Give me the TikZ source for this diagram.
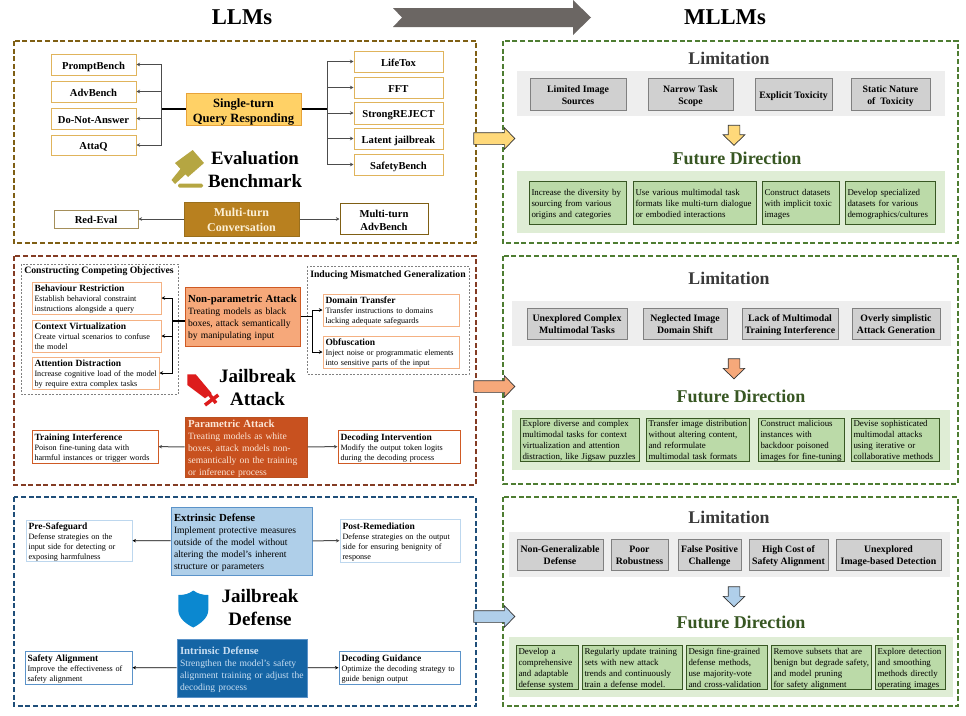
\documentclass[tikz,border=0pt]{standalone}
\usepackage{fontspec}
\setmainfont{Liberation Serif}
\usetikzlibrary{arrows.meta}
\usetikzlibrary{shapes.arrows}
\definecolor{brownline}{HTML}{7F5F14}
\definecolor{rustline}{HTML}{843C24}
\definecolor{navyline}{HTML}{1F4E79}
\definecolor{greenline}{HTML}{4E7D32}
\definecolor{goldedge}{HTML}{E0B45C}
\definecolor{peachedge}{HTML}{F4B183}
\definecolor{orangeedge}{HTML}{CF5A24}
\definecolor{skyedge}{HTML}{BDD7EE}
\definecolor{blueedge}{HTML}{5B93C9}
\definecolor{limtext}{HTML}{3A3A3A}
\definecolor{futtext}{HTML}{385723}
\definecolor{limback}{HTML}{EEEEEE}
\definecolor{futback}{HTML}{DFEDD5}
\definecolor{limfill}{HTML}{D0D0D0}
\definecolor{futfill}{HTML}{BBDAA8}
\definecolor{bigarrow}{HTML}{6B6663}
\definecolor{singlefill}{HTML}{FFD166}
\definecolor{singleedge}{HTML}{E8A33A}
\definecolor{multifill}{HTML}{B8801F}
\definecolor{multiedge}{HTML}{9A6F1C}
\definecolor{multitext}{HTML}{FCF0D7}
\definecolor{gavelcol}{HTML}{B5A642}
\definecolor{swordcol}{HTML}{DD1C1C}
\definecolor{shieldcol}{HTML}{0B88D0}
\definecolor{nonparamfill}{HTML}{F6A87A}
\definecolor{paramfill}{HTML}{C8511F}
\definecolor{paramtext}{HTML}{FBE5D6}
\definecolor{extrfill}{HTML}{AFCFE9}
\definecolor{intrfill}{HTML}{1565A5}
\definecolor{intrtext}{HTML}{C8DEF2}
\definecolor{evalpoint}{HTML}{FFD97A}
\definecolor{attackpoint}{HTML}{F6A87A}
\definecolor{defpoint}{HTML}{B0CFEA}
\tikzset{panelline/.style={dash pattern=on 5pt off 2.6pt,line width=1.4pt}}
\tikzset{groupline/.style={draw=gray,dash pattern=on 2pt off 1.5pt,line width=.7pt}}
\tikzset{arrow/.style={-{Stealth[length=3.5pt,width=3.5pt]},line width=1pt,draw=black!70}}
\tikzset{thinarrow/.style={arrow,line width=.8pt,draw=black}}
\tikzset{trunk/.style={line width=1.6pt,draw=black}}
\tikzset{bench/.style 2 args={draw=goldedge,line width=1pt,minimum width=#1pt,minimum height=#2pt,inner sep=0pt,font=\fontsize{10.6}{13}\selectfont\bfseries}}
\tikzset{note/.style 2 args={line width=1pt,fill=white,text width=\dimexpr#1pt-5pt\relax,minimum height=#2pt,inner xsep=2.5pt,inner ysep=0pt,font=\fontsize{8.15}{10}\selectfont}}
\tikzset{hub/.style 2 args={line width=1pt,text width=\dimexpr#1pt-6pt\relax,minimum height=#2pt,inner xsep=3pt,inner ysep=0pt,font=\fontsize{9.6}{11.9}\selectfont}}
\tikzset{limbox/.style 2 args={draw=gray,line width=1pt,fill=limfill,minimum width=#1pt,minimum height=#2pt,inner sep=0pt,font=\fontsize{9.8}{12}\selectfont\bfseries}}
\tikzset{futbox/.style 2 args={draw=futtext,line width=.9pt,fill=futfill,text width=\dimexpr#1pt-5pt\relax,minimum height=#2pt,inner xsep=2.5pt,inner ysep=0pt,font=\fontsize{8.9}{11}\selectfont}}
\tikzset{title/.style={inner sep=0pt,font=\fontsize{#1}{#1}\selectfont\bfseries}}
\tikzset{stack/.style={inner sep=0pt,align=center,font=\fontsize{19}{23}\selectfont\bfseries}}
\tikzset{pointer/.style={draw=black!80,line width=.7pt,fill=#1,single arrow,inner sep=0pt,text height=11pt,text depth=0pt,minimum width=21pt,single arrow head extend=5pt,single arrow tip angle=92}}
\newcommand{\panel}[3]{
    \draw[panelline,draw=#1] #2 rectangle #3;
}
\newcommand{\hd}[1]{{\fontsize{9.5}{10}\selectfont\bfseries #1}}
\newcommand{\hdbig}[1]{{\fontsize{10.8}{11.9}\selectfont\bfseries #1}}
\newcommand{\lft}[1]{\hbox to\hsize{\raisebox{-.45em}[0pt][0pt]{\begin{tabular}{@{}l@{}}#1\end{tabular}}\hss}}
\newcommand{\ctr}[1]{\raisebox{-.45em}[0pt][0pt]{\begin{tabular}{@{}c@{}}#1\end{tabular}}}

\begin{document}
\begin{tikzpicture}[x=1pt,y=-1pt]
    \useasboundingbox (0,0) rectangle (966,715);

    \node[title=22.6] (llms) at (242,17) {LLMs};
    \node[title=22.6] (mllms) at (725,17) {MLLMs};
    \fill[fill=bigarrow] (393,8) -- (573,8) -- (573,0) -- (591,17.5) -- (573,35) -- (573,27) -- (393,27) -- (402,17.5) -- cycle;

    \panel{brownline}{(14,41)}{(476,243)}
    \panel{rustline}{(14,256)}{(476,485)}
    \panel{navyline}{(14,497)}{(476,706)}
    \panel{greenline}{(503,41)}{(958,243)}
    \panel{greenline}{(503,256)}{(958,484)}
    \panel{greenline}{(503,497)}{(958,706)}

    \node[bench={85}{21}] (prompt) at (93.5,64.5) {\ctr{PromptBench}};
    \node[bench={85}{21}] (adv) at (93.5,91.5) {\ctr{AdvBench}};
    \node[bench={85}{21}] (dna) at (93.5,118.5) {\ctr{Do-Not-Answer}};
    \node[bench={85}{20}] (attaq) at (93.5,145) {\ctr{AttaQ}};
    \node[bench={115}{32},fill=singlefill,draw=singleedge,font=\fontsize{12.6}{15}\selectfont\bfseries] (single) at (243.5,109) {\ctr{Single-turn\\Query Responding}};
    \node[bench={89}{21}] (lifetox) at (398.5,61.5) {\ctr{LifeTox}};
    \node[bench={89}{21}] (fft) at (398.5,87.5) {\ctr{FFT}};
    \node[bench={89}{22}] (strong) at (398.5,113) {\ctr{StrongREJECT}};
    \node[bench={89}{21}] (latent) at (398.5,138.5) {\ctr{Latent jailbreak}};
    \node[bench={89}{21}] (safety) at (398.5,164.5) {\ctr{SafetyBench}};
    \coordinate (lbus) at (161,109);
    \coordinate (rbus) at (327,109);
    \draw[trunk] (single.west) -- (lbus);
    \draw[trunk] (single.east) -- (rbus);
    \foreach \leaf in {prompt,adv,dna,attaq} {
        \draw[arrow] (lbus) |- (\leaf.east);
    }
    \foreach \leaf in {lifetox,fft,strong,latent,safety} {
        \draw[arrow] (rbus) |- (\leaf.west);
    }

    \fill[fill=gavelcol] (175,163) -- (192.7,150) -- (204,163) -- (188,177) -- cycle;
    \fill[fill=gavelcol] (182,167) -- (171.5,180) -- (175,184) -- (188,172) -- cycle;
    \fill[fill=gavelcol,rounded corners=1.5pt] (178,183.5) rectangle (203,187.5);
    \node[stack,font=\fontsize{18.8}{23}\selectfont\bfseries] (evalname) at (255,169.5) {Evaluation\\Benchmark};

    \node[bench={115}{34},draw=multiedge,fill=multifill,text=multitext,font=\fontsize{12}{15}\selectfont\bfseries] (multi) at (241.5,219) {\ctr{Multi-turn\\Conversation}};
    \node[bench={84}{18},draw=brownline!70] (redeval) at (96,219) {\ctr{Red-Eval}};
    \node[bench={88}{31},draw=brownline] (multiadv) at (384,219) {\ctr{Multi-turn\\AdvBench}};
    \draw[arrow] (multi) -- (redeval);
    \draw[arrow] (multi) -- (multiadv);

    \draw[groupline] (21,264) rectangle (178,394);
    \draw[groupline] (307,266) rectangle (469,374);
    \node[inner sep=0pt,font=\fontsize{9.75}{12}\selectfont\bfseries] (compname) at (99,271) {Constructing Competing Objectives};
    \node[inner sep=0pt,font=\fontsize{9.75}{12}\selectfont\bfseries] (mismname) at (388,275) {Inducing Mismatched Generalization};
    \node[note={129}{32},draw=peachedge] (behav) at (96.5,298) {\lft{\hd{Behaviour Restriction}\\Establish behavioral constraint\\instructions alongside a query}};
    \node[note={129}{32},draw=peachedge] (context) at (96.5,336) {\lft{\hd{Context Virtualization}\\Create virtual scenarios to confuse\\the model}};
    \node[note={127}{32},draw=peachedge] (attention) at (95.5,373) {\lft{\hd{Attention Distraction}\\Increase cognitive load of the model\\by require extra complex tasks}};
    \node[hub={115}{59},draw=orangeedge,fill=nonparamfill] (nonparam) at (242.5,316.5) {\lft{\hdbig{Non-parametric Attack}\\Treating models as black\\boxes, attack semantically\\by manipulating input}};
    \node[note={136}{32},draw=peachedge] (domain) at (391,310) {\lft{\hd{Domain Transfer}\\Transfer instructions to domains\\lacking adequate safeguards}};
    \node[note={136}{32},draw=peachedge] (obfus) at (391,352) {\lft{\hd{Obfuscation}\\Inject noise or programmatic elements\\into sensitive parts of the input}};
    \coordinate (lbusb) at (172,321);
    \coordinate (rbusb) at (312,316);
    \draw[trunk] (nonparam.west |- lbusb) -- (lbusb);
    \draw[trunk,line width=1pt] (nonparam.east |- rbusb) -- (rbusb);
    \foreach \leaf in {behav,context,attention} {
        \draw[thinarrow] (lbusb) |- (\leaf.east);
    }
    \foreach \leaf in {domain,obfus} {
        \draw[thinarrow] (rbusb) |- (\leaf.west);
    }

    \fill[fill=swordcol] (187.3,374.3) -- (195.7,374.3) -- (211.7,393.3) -- (205,398.3) -- (187.3,385) -- cycle;
    \draw[draw=swordcol,line width=3.5pt] (218.3,395) -- (205,405);
    \draw[draw=swordcol,line width=3.5pt] (209,394) -- (216,403);
    \node[stack] (attackname) at (257.5,387.5) {Jailbreak\\Attack};

    \node[hub={122}{60},draw=orangeedge!90!black,fill=paramfill,text=paramtext] (param) at (246,447) {\lft{\hdbig{Parametric Attack}\\Treating models as white\\boxes, attack models non-\\semantically on the training\\or inference process}};
    \node[note={126}{33},draw=orangeedge] (train) at (95,446.5) {\lft{\hd{Training Interference}\\Poison fine-tuning data with\\harmful instances or trigger words}};
    \node[note={122}{33},draw=orangeedge] (decint) at (399,446.5) {\lft{\hd{Decoding Intervention}\\Modify the output token logits\\during the decoding process}};
    \draw[arrow] (param) -- (train);
    \draw[arrow] (param) -- (decint);

    \node[hub={141}{68},draw=blueedge,fill=extrfill] (extr) at (241.5,541) {\lft{\hdbig{Extrinsic Defense}\\Implement protective measures\\outside of the model without\\altering the model's inherent\\structure or parameters}};
    \node[note={106}{41},draw=skyedge] (presafe) at (79,540.5) {\lft{\hd{Pre-Safeguard}\\Defense strategies on the\\input side for detecting or\\exposing harmfulness}};
    \node[note={120}{43},draw=skyedge] (postrem) at (400,540.5) {\lft{\hd{Post-Remediation}\\Defense strategies on the output\\side for ensuring benignity of\\response}};
    \draw[thinarrow] (extr) -- (presafe);
    \draw[arrow] (extr) -- (postrem);

    \fill[fill=shieldcol] (193.3,590.5) .. controls (198,594) and (203,595) .. (208.3,595) -- (208.3,610) .. controls (208.3,618) and (200,624) .. (193.3,627.5) .. controls (186,624) and (178.3,618) .. (178.3,610) -- (178.3,595) .. controls (184,595) and (189,594) .. (193.3,590.5) -- cycle;
    \node[stack] (defname) at (260,607.5) {Jailbreak\\Defense};

    \node[hub={130}{58},draw=blueedge,fill=intrfill,text=intrtext] (intr) at (242,668) {\lft{\hdbig{Intrinsic Defense}\\Strengthen the model's safety\\alignment training or adjust the\\decoding process}};
    \node[note={107}{33},draw=blueedge] (safeal) at (78.5,667.5) {\lft{\hd{Safety Alignment}\\Improve the effectiveness of\\safety alignment}};
    \node[note={121}{33},draw=blueedge] (decguide) at (399.5,667.5) {\lft{\hd{Decoding Guidance}\\Optimize the decoding strategy to\\guide benign output}};
    \draw[thinarrow] (intr) -- (safeal);
    \draw[thinarrow] (intr) -- (decguide);

    \node[pointer=evalpoint,minimum height=41pt] (evalptr) at (491.5,138.5) {};
    \node[pointer=attackpoint,minimum height=41pt] (attackptr) at (491.5,386.5) {};
    \node[pointer=defpoint,minimum height=41pt] (defptr) at (491.5,616.5) {};

    \node[title=17.8,text=limtext] (limone) at (729,58) {Limitation};
    \fill[fill=limback] (517,71) rectangle (945,116);
    \node[limbox={96}{32}] (limimage) at (578,94) {\ctr{Limited Image\\Sources}};
    \node[limbox={85}{32}] (limscope) at (690.5,94) {\ctr{Narrow Task\\Scope}};
    \node[limbox={77}{32}] (limtox) at (793.5,94) {\ctr{Explicit Toxicity}};
    \node[limbox={79}{32}] (limstatic) at (890.5,94) {\ctr{Static Nature\\of\ \ Toxicity}};
    \node[pointer=evalpoint,minimum height=20pt,rotate=-90] (evaldown) at (734,132.5) {};
    \node[title=18,text=futtext] (futone) at (737,158) {Future Direction};
    \fill[fill=futback] (517,171) rectangle (945,233);
    \node[futbox={97}{43}] (futimage) at (577.5,202.5) {\lft{Increase the diversity by\\sourcing from various\\origins and categories}};
    \node[futbox={123}{43}] (futtask) at (694.5,202.5) {\lft{Use various multimodal task\\formats like multi-turn dialogue\\or embodied interactions}};
    \node[futbox={77}{43}] (futtox) at (800.5,202.5) {\lft{Construct datasets\\with implicit toxic\\images}};
    \node[futbox={90}{43}] (futdemo) at (890,202.5) {\lft{Develop specialized\\datasets for various\\demographics/cultures}};

    \node[title=17.8,text=limtext] (limtwo) at (729,278) {Limitation};
    \fill[fill=limback] (512,301) rectangle (951,346);
    \node[limbox={100}{31}] (limcomplex) at (577,323.5) {\ctr{Unexplored Complex\\Multimodal Tasks}};
    \node[limbox={84}{31}] (limshift) at (685,323.5) {\ctr{Neglected Image\\Domain Shift}};
    \node[limbox={96}{31}] (limtrain) at (790,323.5) {\ctr{Lack of Multimodal\\Training Interference}};
    \node[limbox={88}{31}] (limgen) at (896,323.5) {\ctr{Overly simplistic\\Attack Generation}};
    \node[pointer=attackpoint,minimum height=20pt,rotate=-90] (attackdown) at (734,366) {};
    \node[title=18,text=futtext] (futtwo) at (741,396) {Future Direction};
    \fill[fill=futback] (512,410) rectangle (950,470);
    \node[futbox={119}{43}] (futdiverse) at (579.5,439.5) {\lft{Explore diverse and complex\\multimodal tasks for context\\virtualization and attention\\distraction, like Jigsaw puzzles}};
    \node[futbox={103}{43}] (futdistrib) at (697.5,439.5) {\lft{Transfer image distribution\\without altering content,\\and reformulate\\multimodal task formats}};
    \node[futbox={86}{43}] (futpoison) at (801,439.5) {\lft{Construct malicious\\instances with\\backdoor poisoned\\images for fine-tuning}};
    \node[futbox={88}{43}] (futcollab) at (895,439.5) {\lft{Devise sophisticated\\multimodal attacks\\using iterative or\\collaborative methods}};

    \node[title=17.8,text=limtext] (limthree) at (729,517) {Limitation};
    \fill[fill=limback] (509,532) rectangle (950,577);
    \node[limbox={86}{31}] (limnongen) at (560,554.5) {\ctr{Non-Generalizable\\Defense}};
    \node[limbox={57}{31}] (limrobust) at (639.5,554.5) {\ctr{Poor\\Robustness}};
    \node[limbox={63}{31}] (limfalse) at (709.5,554.5) {\ctr{False Positive\\Challenge}};
    \node[limbox={79}{31}] (limcost) at (788.5,554.5) {\ctr{High Cost of\\Safety Alignment}};
    \node[limbox={105}{31}] (limdetect) at (888.5,554.5) {\ctr{Unexplored\\Image-based Detection}};
    \node[pointer=defpoint,minimum height=20pt,rotate=-90] (defdown) at (734,594) {};
    \node[title=18,text=futtext] (futthree) at (741,622) {Future Direction};
    \fill[fill=futback] (509,637) rectangle (953,697);
    \node[futbox={62}{44}] (futsystem) at (547,667) {\lft{Develop a\\comprehensive\\and adaptable\\defense system}};
    \node[futbox={100}{44}] (futupdate) at (632,667) {\lft{Regularly update training\\sets with new attack\\trends and continuously\\train a defense model.}};
    \node[futbox={81}{44}] (futgrain) at (726.5,667) {\lft{Design fine-grained\\defense methods,\\use majority-vote\\and cross-validation}};
    \node[futbox={100}{44}] (futsubset) at (821,667) {\lft{Remove subsets that are\\benign but degrade safety,\\and model pruning\\for safety alignment}};
    \node[futbox={70}{44}] (futsmooth) at (910,667) {\lft{Explore detection\\and smoothing\\methods directly\\operating images}};
\end{tikzpicture}
\end{document}
